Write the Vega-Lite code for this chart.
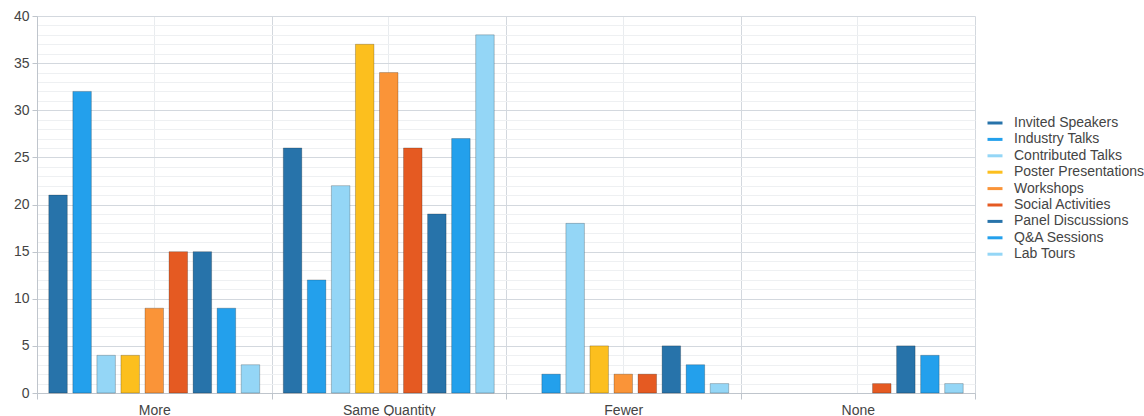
{
  "$schema": "https://vega.github.io/schema/vega-lite/v6.json",
  "width": 938,
  "height": 377,
  "autosize": "none",
  "padding": {"left": 37, "top": 16, "right": 169, "bottom": 23},
  "background": "white",
  "config": {
    "font": "Liberation Sans",
    "view": {"stroke": null}
  },
  "data": {
    "values": [
      {"response": "More", "session": "Invited Speakers", "count": 21},
      {"response": "More", "session": "Industry Talks", "count": 32},
      {"response": "More", "session": "Contributed Talks", "count": 4},
      {"response": "More", "session": "Poster Presentations", "count": 4},
      {"response": "More", "session": "Workshops", "count": 9},
      {"response": "More", "session": "Social Activities", "count": 15},
      {"response": "More", "session": "Panel Discussions", "count": 15},
      {"response": "More", "session": "Q&A Sessions", "count": 9},
      {"response": "More", "session": "Lab Tours", "count": 3},
      {"response": "Same Quantity", "session": "Invited Speakers", "count": 26},
      {"response": "Same Quantity", "session": "Industry Talks", "count": 12},
      {"response": "Same Quantity", "session": "Contributed Talks", "count": 22},
      {"response": "Same Quantity", "session": "Poster Presentations", "count": 37},
      {"response": "Same Quantity", "session": "Workshops", "count": 34},
      {"response": "Same Quantity", "session": "Social Activities", "count": 26},
      {"response": "Same Quantity", "session": "Panel Discussions", "count": 19},
      {"response": "Same Quantity", "session": "Q&A Sessions", "count": 27},
      {"response": "Same Quantity", "session": "Lab Tours", "count": 38},
      {"response": "Fewer", "session": "Industry Talks", "count": 2},
      {"response": "Fewer", "session": "Contributed Talks", "count": 18},
      {"response": "Fewer", "session": "Poster Presentations", "count": 5},
      {"response": "Fewer", "session": "Workshops", "count": 2},
      {"response": "Fewer", "session": "Social Activities", "count": 2},
      {"response": "Fewer", "session": "Panel Discussions", "count": 5},
      {"response": "Fewer", "session": "Q&A Sessions", "count": 3},
      {"response": "Fewer", "session": "Lab Tours", "count": 1},
      {"response": "None", "session": "Social Activities", "count": 1},
      {"response": "None", "session": "Panel Discussions", "count": 5},
      {"response": "None", "session": "Q&A Sessions", "count": 4},
      {"response": "None", "session": "Lab Tours", "count": 1}
    ]
  },
  "encoding": {
    "y": {
      "field": "count", "type": "quantitative",
      "scale": {"domain": [0, 40], "nice": false},
      "axis": {
        "title": null,
        "values": [0,1,2,3,4,5,6,7,8,9,10,11,12,13,14,15,16,17,18,19,20,21,22,23,24,25,26,27,28,29,30,31,32,33,34,35,36,37,38,39,40],
        "labelExpr": "datum.value % 5 === 0 ? datum.label : ''",
        "labelFontSize": 14, "labelColor": "#444444", "labelPadding": 3,
        "grid": true,
        "gridColor": {"condition": {"test": "datum.value % 5 === 0", "value": "#d3d8de"}, "value": "#eef0f2"},
        "tickOpacity": {"condition": {"test": "datum.value % 5 === 0", "value": 1}, "value": 0},
        "tickColor": "#bfc5cc", "tickSize": 5,
        "domainColor": "#bfc5cc"
      }
    }
  },
  "layer": [
    {
      "mark": {"type": "bar", "opacity": 0},
      "encoding": {
        "x": {
          "field": "response", "type": "nominal",
          "sort": ["More", "Same Quantity", "Fewer", "None"],
          "scale": {"paddingInner": 0, "paddingOuter": 0},
          "axis": {
            "orient": "top", "title": null, "labels": false, "ticks": false, "domain": false,
            "grid": true, "gridColor": "#e9ecef", "gridWidth": 1
          }
        }
      }
    },
    {
      "mark": {"type": "bar"},
      "encoding": {
        "x": {
          "field": "response", "type": "nominal",
          "sort": ["More", "Same Quantity", "Fewer", "None"],
          "scale": {"paddingInner": 0, "paddingOuter": 0},
          "axis": {
            "title": null, "labelAngle": 0, "labelFontSize": 14, "labelColor": "#444444",
            "labelPadding": 4,
            "grid": true, "tickBand": "extent", "gridColor": "#d3d8de",
            "domainColor": "#bfc5cc", "tickColor": "#bfc5cc", "tickSize": 6
          }
        },
        "xOffset": {
          "field": "session", "type": "nominal",
          "sort": ["Invited Speakers", "Industry Talks", "Contributed Talks", "Poster Presentations", "Workshops", "Social Activities", "Panel Discussions", "Q&A Sessions", "Lab Tours"],
          "scale": {"paddingInner": 0.23, "paddingOuter": 0.49}
        },
        "color": {
          "field": "session", "type": "nominal",
          "sort": ["Invited Speakers", "Industry Talks", "Contributed Talks", "Poster Presentations", "Workshops", "Social Activities", "Panel Discussions", "Q&A Sessions", "Lab Tours"],
          "scale": {
            "domain": ["Invited Speakers", "Industry Talks", "Contributed Talks", "Poster Presentations", "Workshops", "Social Activities", "Panel Discussions", "Q&A Sessions", "Lab Tours"],
            "range": ["#2773aa", "#23a0ec", "#94d6f6", "#fcbf1e", "#fa9438", "#e55a22", "#2773aa", "#23a0ec", "#94d6f6"]
          },
          "legend": {
            "title": null, "orient": "none", "legendX": 949, "legendY": 98,
            "symbolType": "stroke", "symbolStrokeWidth": 3, "symbolSize": 225,
            "symbolOpacity": 1,
            "labelFontSize": 14, "labelColor": "#444444", "labelOffset": 10,
            "rowPadding": 0.4,
            "encode": {
              "symbols": {
                "update": {
                  "stroke": {"scale": "color", "field": "value"},
                  "strokeOpacity": {"value": 1}
                }
              }
            }
          }
        }
      }
    },
    {
      "mark": {"type": "bar", "fill": null, "fillOpacity": 0, "stroke": "#000000", "strokeOpacity": 0.22, "strokeWidth": 1},
      "encoding": {
        "x": {
          "field": "response", "type": "nominal",
          "sort": ["More", "Same Quantity", "Fewer", "None"],
          "axis": null
        },
        "xOffset": {
          "field": "session", "type": "nominal",
          "sort": ["Invited Speakers", "Industry Talks", "Contributed Talks", "Poster Presentations", "Workshops", "Social Activities", "Panel Discussions", "Q&A Sessions", "Lab Tours"]
        }
      }
    }
  ],
  "resolve": {"axis": {"x": "independent"}}
}
